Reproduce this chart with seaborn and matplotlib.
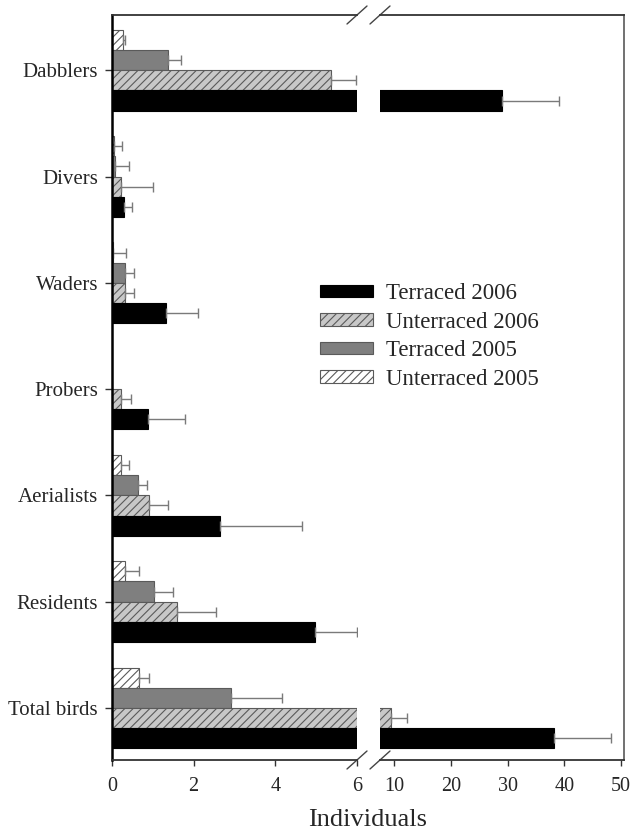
import numpy as np
import pandas as pd
import matplotlib
matplotlib.use("Agg")
import matplotlib.pyplot as plt
import seaborn as sns
from matplotlib.patches import Patch

# ---- data ---------------------------------------------------------------
groups = ["Dabblers", "Divers", "Waders", "Probers", "Aerialists", "Residents", "Total birds"]
series = ["Unterraced 2005", "Terraced 2005", "Unterraced 2006", "Terraced 2006"]

unterraced_2005 = [0.26, 0.05, 0.03, 0.0, 0.22, 0.31, 0.67]
unterraced_2005_se = [0.06, 0.20, 0.32, 0.0, 0.19, 0.35, 0.24]
terraced_2005 = [1.36, 0.07, 0.33, 0.0, 0.63, 1.03, 2.91]
terraced_2005_se = [0.33, 0.34, 0.22, 0.0, 0.23, 0.46, 1.25]
unterraced_2006 = [5.37, 0.23, 0.33, 0.23, 0.91, 1.58, 9.5]
unterraced_2006_se = [0.61, 0.78, 0.21, 0.23, 0.47, 0.97, 2.7]
terraced_2006 = [29.1, 0.29, 1.32, 0.89, 2.65, 4.97, 38.2]
terraced_2006_se = [10.0, 0.20, 0.79, 0.89, 2.01, 1.02, 10.0]

left_ticks = [0, 2, 4, 6]
right_ticks = [10, 20, 30, 40, 50]

values = {
    "Unterraced 2005": (unterraced_2005, unterraced_2005_se),
    "Terraced 2005": (terraced_2005, terraced_2005_se),
    "Unterraced 2006": (unterraced_2006, unterraced_2006_se),
    "Terraced 2006": (terraced_2006, terraced_2006_se),
}
rows = []
for s in series:
    v, e = values[s]
    for g, vi, ei in zip(groups, v, e):
        rows.append({"group": g, "series": s, "value": vi, "se": ei})
df = pd.DataFrame(rows)

# ---- styling ------------------------------------------------------------
sns.set_style("ticks")
plt.rcParams["font.family"] = ["Liberation Serif", "DejaVu Serif"]
plt.rcParams["hatch.linewidth"] = 0.8

palette = {"Unterraced 2005": "white", "Terraced 2005": "#7f7f7f",
           "Unterraced 2006": "#c8c8c8", "Terraced 2006": "black"}
edges = {"Unterraced 2005": "#5a5a5a", "Terraced 2005": "#5a5a5a",
         "Unterraced 2006": "#5a5a5a", "Terraced 2006": "black"}
hatches = {"Unterraced 2005": "////", "Terraced 2005": "",
           "Unterraced 2006": "////", "Terraced 2006": ""}

W, H = 632, 834
fig = plt.figure(figsize=(W / 100, H / 100), dpi=100)
bottom = 1 - 760 / H
height = (760 - 15) / H
ax_l = fig.add_axes([112 / W, bottom, 245 / W, height])
ax_r = fig.add_axes([380 / W, bottom, 244.3 / W, height])

spine_col = "#333333"
err_col = "#7a7a7a"

for ax, xlim in ((ax_l, (0, 6)), (ax_r, (7.5, 50.6))):
    sns.barplot(data=df, y="group", x="value", hue="series", hue_order=series,
                order=groups, orient="h", width=0.76, errorbar=None,
                palette=palette, saturation=1, legend=False, ax=ax)
    for cont, s in zip(ax.containers, series):
        _, e = values[s]
        for bar, ei in zip(cont, e):
            bar.set_edgecolor(edges[s])
            bar.set_linewidth(0.8)
            bar.set_hatch(hatches[s])
            if ei > 0:
                yc = bar.get_y() + bar.get_height() / 2
                ax.errorbar(bar.get_width(), yc, xerr=[[0], [ei]], fmt="none",
                            ecolor=err_col, elinewidth=1.0, capsize=3.5,
                            capthick=1.0, zorder=1)
    ax.set_xlim(*xlim)
    ax.set_ylim(6.49, -0.52)
    ax.set_xlabel("")
    ax.set_ylabel("")
    for sp in ax.spines.values():
        sp.set_color(spine_col)
        sp.set_linewidth(1.3)
    ax.tick_params(axis="x", labelsize=14.5, length=4, width=1, color=spine_col, pad=8)

ax_l.spines["right"].set_visible(False)
ax_l.set_xticks(left_ticks)
ax_l.tick_params(axis="y", labelsize=15, length=5, width=1, color=spine_col, pad=5)
ax_l.spines["left"].set_color("black")
ax_l.spines["left"].set_linewidth(1.8)

ax_r.spines["left"].set_visible(False)
ax_r.set_xticks(right_ticks)
ax_r.set_yticks([])
ax_r.spines["right"].set_color("#666666")

# diagonal break marks at the gap between the two panels
def break_marks(ax, x0):
    bw = ax.get_window_extent().width
    bh = ax.get_window_extent().height
    dx = 10 / bw
    dy = 9 / bh
    for y0 in (0, 1):
        ax.plot([x0 - dx, x0 + dx], [y0 - dy, y0 + dy], transform=ax.transAxes,
                color="#444444", lw=1.0, clip_on=False)

break_marks(ax_l, 1)
break_marks(ax_r, 0)

fig.text(368 / W, 1 - 820 / H, "Individuals", ha="center", va="center", fontsize=19)

handles = [Patch(facecolor=palette[s], edgecolor=edges[s], hatch=hatches[s], linewidth=0.8)
           for s in series[::-1]]
fig.legend(handles, series[::-1], loc="upper left",
           bbox_to_anchor=(320 / W, 1 - 283 / H), frameon=False, fontsize=16.5,
           handlelength=2.3, handleheight=0.45, handletextpad=0.6,
           labelspacing=0.33, borderpad=0, borderaxespad=0)

fig.savefig("out.png", dpi=100)
